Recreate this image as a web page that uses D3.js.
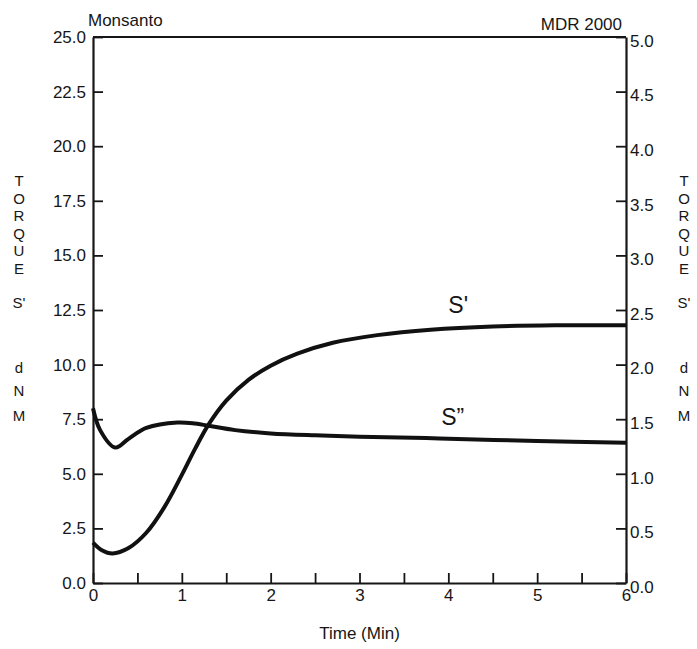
<!DOCTYPE html>
<html>
<head>
<meta charset="utf-8">
<script src="https://cdn.jsdelivr.net/npm/d3@7"></script>
<style>
  body { margin: 0; background: #fff; }
  text { font-family: "Liberation Sans", Arial, sans-serif; fill: #161616; }
</style>
</head>
<body>
<svg id="chart" width="697" height="649"></svg>
<script>
// values
const timeSPrime = [0, 0.1, 0.22, 0.4, 0.6, 0.8, 1.0, 1.15, 1.3, 1.5, 1.75, 2.0, 2.3, 2.7, 3.2, 3.8, 4.5, 5.2, 6];
const sPrime = [1.85, 1.5, 1.35, 1.6, 2.3, 3.45, 4.95, 6.15, 7.25, 8.35, 9.3, 9.95, 10.5, 11.0, 11.35, 11.6, 11.75, 11.8, 11.8];

const timeSDouble = [0, 0.08, 0.25, 0.4, 0.6, 0.95, 1.15, 1.3, 1.6, 2.0, 2.5, 3.0, 3.9, 5.0, 6];
const sDouble = [8.0, 7.0, 6.2, 6.6, 7.1, 7.35, 7.3, 7.2, 7.0, 6.85, 6.76, 6.7, 6.62, 6.5, 6.42];

const leftTicks = [0, 2.5, 5, 7.5, 10, 12.5, 15, 17.5, 20, 22.5, 25];
const rightTicks = [0, 0.5, 1, 1.5, 2, 2.5, 3, 3.5, 4, 4.5, 5];
const timeTicks = [0, 0.5, 1, 1.5, 2, 2.5, 3, 3.5, 4, 4.5, 5, 5.5, 6];
const axisLetters = ["T", "O", "R", "Q", "U", "E", "S'", "d", "N", "M"];

const svg = d3.select("#chart");

const x = d3.scaleLinear().domain([0, 6]).range([93, 626]);
const yLeft = d3.scaleLinear().domain([0, 25]).range([583, 37]);
const yRight = d3.scaleLinear().domain([0, 5]).range([583, 37]);

const fmt = d3.format(".1f");

const styleAxis = (g) => {
  g.selectAll("path.domain").attr("stroke", "#161616").attr("stroke-width", 2.2);
  g.selectAll(".tick line").attr("stroke", "#161616").attr("stroke-width", 1.8);
  g.selectAll(".tick text")
    .style("font-family", '"Liberation Sans", Arial, sans-serif')
    .style("font-size", "17px")
    .attr("fill", "#161616");
};

svg.append("g")
    .attr("transform", `translate(${x(0)},0)`)
    .call(d3.axisLeft(yLeft).tickValues(leftTicks).tickFormat(fmt)
      .tickSize(-10).tickSizeOuter(0).tickPadding(7))
    .call(styleAxis);

svg.append("g")
    .attr("transform", `translate(${x(6)},0)`)
    .call(d3.axisRight(yRight).tickValues(rightTicks).tickFormat(fmt)
      .tickSize(-10).tickSizeOuter(0).tickPadding(4))
    .call(styleAxis)
    .selectAll(".tick text").attr("dy", "0.55em");

svg.append("g")
    .attr("transform", `translate(0,${yLeft(0)})`)
    .call(d3.axisBottom(x).tickValues(timeTicks)
      .tickFormat((d) => Number.isInteger(d) ? d : "")
      .tickSize(-10).tickSizeOuter(0).tickPadding(6))
    .call(styleAxis);

// top frame line
svg.append("line")
    .attr("x1", x(0)).attr("x2", x(6))
    .attr("y1", yLeft(25)).attr("y2", yLeft(25))
    .attr("stroke", "#161616").attr("stroke-width", 2.2);

const line = d3.line()
    .x((d) => x(d[0]))
    .y((d) => yLeft(d[1]))
    .curve(d3.curveCatmullRom.alpha(0.5));

svg.append("path")
    .datum(d3.zip(timeSPrime, sPrime))
    .attr("d", line)
    .attr("fill", "none")
    .attr("stroke", "#111")
    .attr("stroke-width", 4);

svg.append("path")
    .datum(d3.zip(timeSDouble, sDouble))
    .attr("d", line)
    .attr("fill", "none")
    .attr("stroke", "#111")
    .attr("stroke-width", 4);

svg.append("text").attr("x", x(4.0)).attr("y", yLeft(12.35))
    .style("font-size", "23px").text("S'");
svg.append("text").attr("x", x(3.92)).attr("y", yLeft(7.25))
    .style("font-size", "23px").text("S\u201D");

svg.append("text").attr("x", 88).attr("y", 26)
    .style("font-size", "17px").text("Monsanto");
svg.append("text").attr("x", 622).attr("y", 30)
    .attr("text-anchor", "end")
    .style("font-size", "17px").text("MDR 2000");

svg.append("text").attr("x", x(3)).attr("y", 639)
    .attr("text-anchor", "middle")
    .style("font-size", "17px").text("Time (Min)");

// stacked axis titles
const letterY = [181, 199, 216, 234, 251, 269, 303, 368, 391, 416];
const drawTitle = (cx) => {
  svg.append("g").selectAll("text")
    .data(axisLetters)
    .enter().append("text")
      .attr("x", cx)
      .attr("y", (d, i) => letterY[i])
      .attr("dy", "0.35em")
      .attr("text-anchor", "middle")
      .style("font-size", "15px")
      .text((d) => d);
};
drawTitle(19);
drawTitle(684);
</script>
</body>
</html>
